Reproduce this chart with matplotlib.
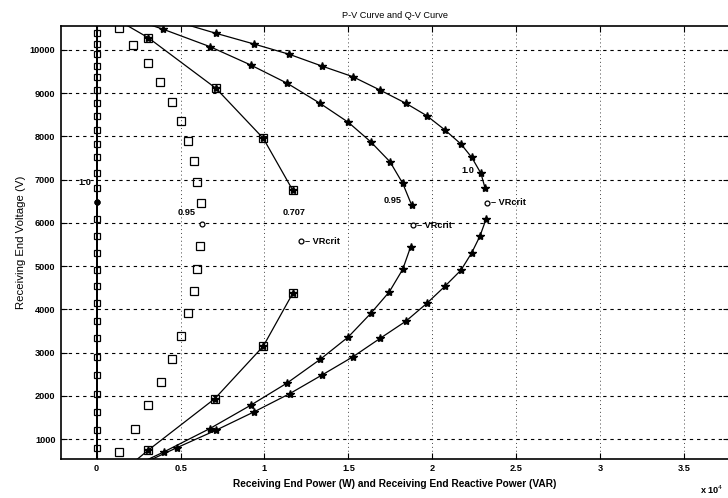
import matplotlib
matplotlib.use('Agg')
import matplotlib.pyplot as plt

plt.rcParams['font.family'] = ['Liberation Sans', 'DejaVu Sans']

# --- data (power in units of 1e4 W / VAR, voltage in V) ---
# pf 1.0 : P-V upper / lower branch (Q-V of pf 1.0 is Q = 0 at the same voltages)
V_PF10_UP = [10650, 10386, 10139, 9900, 9630, 9383, 9074, 8766, 8480, 8148, 7824, 7516, 7146, 6813]
P_PF10_UP = [0.48, 0.711, 0.937, 1.148, 1.341, 1.526, 1.688, 1.843, 1.967, 2.076, 2.171, 2.235, 2.29, 2.314]
V_PF10_LO = [6081, 5694, 5308, 4907, 4537, 4137, 3727, 3326, 2900, 2477, 2053, 1627, 1204, 803, 300]
P_PF10_LO = [2.32, 2.284, 2.235, 2.171, 2.076, 1.967, 1.843, 1.688, 1.526, 1.341, 1.152, 0.937, 0.711, 0.48, 0.2]

# pf 0.95 : P-V
V_PF95_UP = [10800, 10479, 10076, 9653, 9229, 8766, 8326, 7877, 7414, 6914, 6412]
P_PF95_UP = [0.15, 0.397, 0.676, 0.918, 1.136, 1.331, 1.5, 1.633, 1.748, 1.824, 1.877]
V_PF95_LO = [5447, 4927, 4405, 3905, 3363, 2840, 2299, 1782, 1243, 701, 150]
P_PF95_LO = [1.871, 1.824, 1.744, 1.633, 1.5, 1.331, 1.136, 0.918, 0.675, 0.40, 0.1]

# pf 0.95 : Q-V
VQ_PF95 = [10502, 10116, 9692, 9266, 8803, 8363, 7900, 7437, 6937, 6465,
           5463, 4931, 4428, 3919, 3380, 2847, 2315, 1782, 1243, 701]
Q_PF95 = [0.135, 0.218, 0.308, 0.377, 0.447, 0.50, 0.542, 0.58, 0.60, 0.62,
          0.616, 0.60, 0.58, 0.542, 0.50, 0.447, 0.381, 0.308, 0.228, 0.135]

# pf 0.707 : P-V and Q-V coincide
V_PF707_UP = [10750, 10285, 9113, 7956, 6759]
P_PF707_UP = [0.1, 0.307, 0.711, 0.993, 1.168]
V_PF707_LO = [4368, 3148, 1937, 741, 400]
P_PF707_LO = [1.168, 0.993, 0.705, 0.307, 0.2]

# critical points (VRcrit)
CRIT_X = [0.0, 0.626, 1.218, 1.887, 2.324]
CRIT_V = [6480, 5972, 5579, 5949, 6465]
CRIT_LABELED = [2, 3, 4]

# curve labels
LABELS = ['1.0', '0.95', '0.707', '0.95', '1.0']
LABEL_X = [-0.03, 0.535, 1.179, 1.766, 2.21]
LABEL_V = [6944, 6250, 6250, 6528, 7206]
LABEL_HA = ['right', 'center', 'center', 'center', 'center']

XTICKS = [0, 0.5, 1, 1.5, 2, 2.5, 3, 3.5]
XTICKLABELS = ['0', '0.5', '1', '1.5', '2', '2.5', '3', '3.5']
YTICKS = list(range(1000, 10001, 1000))

FS = 6.6

fig = plt.figure(figsize=(7.28, 4.98), dpi=100)
ax = fig.add_axes([61 / 728, 39.3 / 498, 668.3 / 728, 432.7 / 498])

star = dict(color='k', lw=0.9, marker='*', ms=6, mfc='k', mec='k')
square = dict(marker='s', ms=5.5, mfc='none', mec='k', mew=0.9, color='k')

# pf 1.0
ax.plot(P_PF10_UP, V_PF10_UP, **star)
ax.plot(P_PF10_LO, V_PF10_LO, **star)
V_all10 = V_PF10_UP + V_PF10_LO
ax.plot([0.0] * len(V_all10), V_all10, lw=1.4, ls='-', marker='s', ms=4.5,
        mfc='none', mec='k', mew=0.9, color='k')
ax.plot([0.0, 0.0], [0, 11000], color='k', lw=1.4)

# pf 0.95
ax.plot(P_PF95_UP, V_PF95_UP, **star)
ax.plot(P_PF95_LO, V_PF95_LO, **star)
ax.plot(Q_PF95, VQ_PF95, ls='none', **square)

# pf 0.707
for P, V in ((P_PF707_UP, V_PF707_UP), (P_PF707_LO, V_PF707_LO)):
    ax.plot(P, V, **star)
    ax.plot(P, V, ls='none', **square)

# critical voltage points
ax.plot(CRIT_X, CRIT_V, ls='none', marker='o', ms=3.5, mfc='white', mec='k', mew=0.9)
ax.plot(CRIT_X[0], CRIT_V[0], marker='o', ms=3.5, color='k')
for k in CRIT_LABELED:
    ax.annotate('\u2013 VRcrit', (CRIT_X[k], CRIT_V[k]), xytext=(2.8, 0),
                textcoords='offset points', ha='left', va='center',
                fontsize=FS, fontweight='bold')

for s, x, v, ha in zip(LABELS, LABEL_X, LABEL_V, LABEL_HA):
    ax.text(x, v, s, ha=ha, va='center', fontsize=FS, fontweight='bold')

ax.set_xlim(-0.2125, 3.77)
ax.set_ylim(545, 10555)
ax.set_xticks(XTICKS)
ax.set_xticklabels(XTICKLABELS, fontsize=FS, fontweight='bold')
ax.set_yticks(YTICKS)
ax.set_yticklabels([str(y) for y in YTICKS], fontsize=FS, fontweight='bold')
ax.tick_params(direction='in', length=4, width=0.8, top=True, right=True, pad=4)

ax.yaxis.grid(True, ls=(0, (3, 3.5)), color='k', lw=0.8)
ax.xaxis.grid(True, ls=(0, (1, 3)), color='#444444', lw=0.7)

for sp in ax.spines.values():
    sp.set_linewidth(1.2)

ax.set_title('P-V Curve and Q-V Curve', fontsize=FS, pad=6)
ax.set_xlabel('Receiving End Power (W) and Receiving End Reactive Power (VAR)',
              fontsize=7.25, fontweight='bold', labelpad=4)
ax.set_ylabel('Receiving End Voltage (V)', fontsize=8.2, labelpad=3)
fig.text(700 / 728, 1 - 490 / 498, 'x 10$^{4}$', fontsize=FS, fontweight='bold',
         ha='left', va='center')

fig.savefig('out.png', dpi=100)
